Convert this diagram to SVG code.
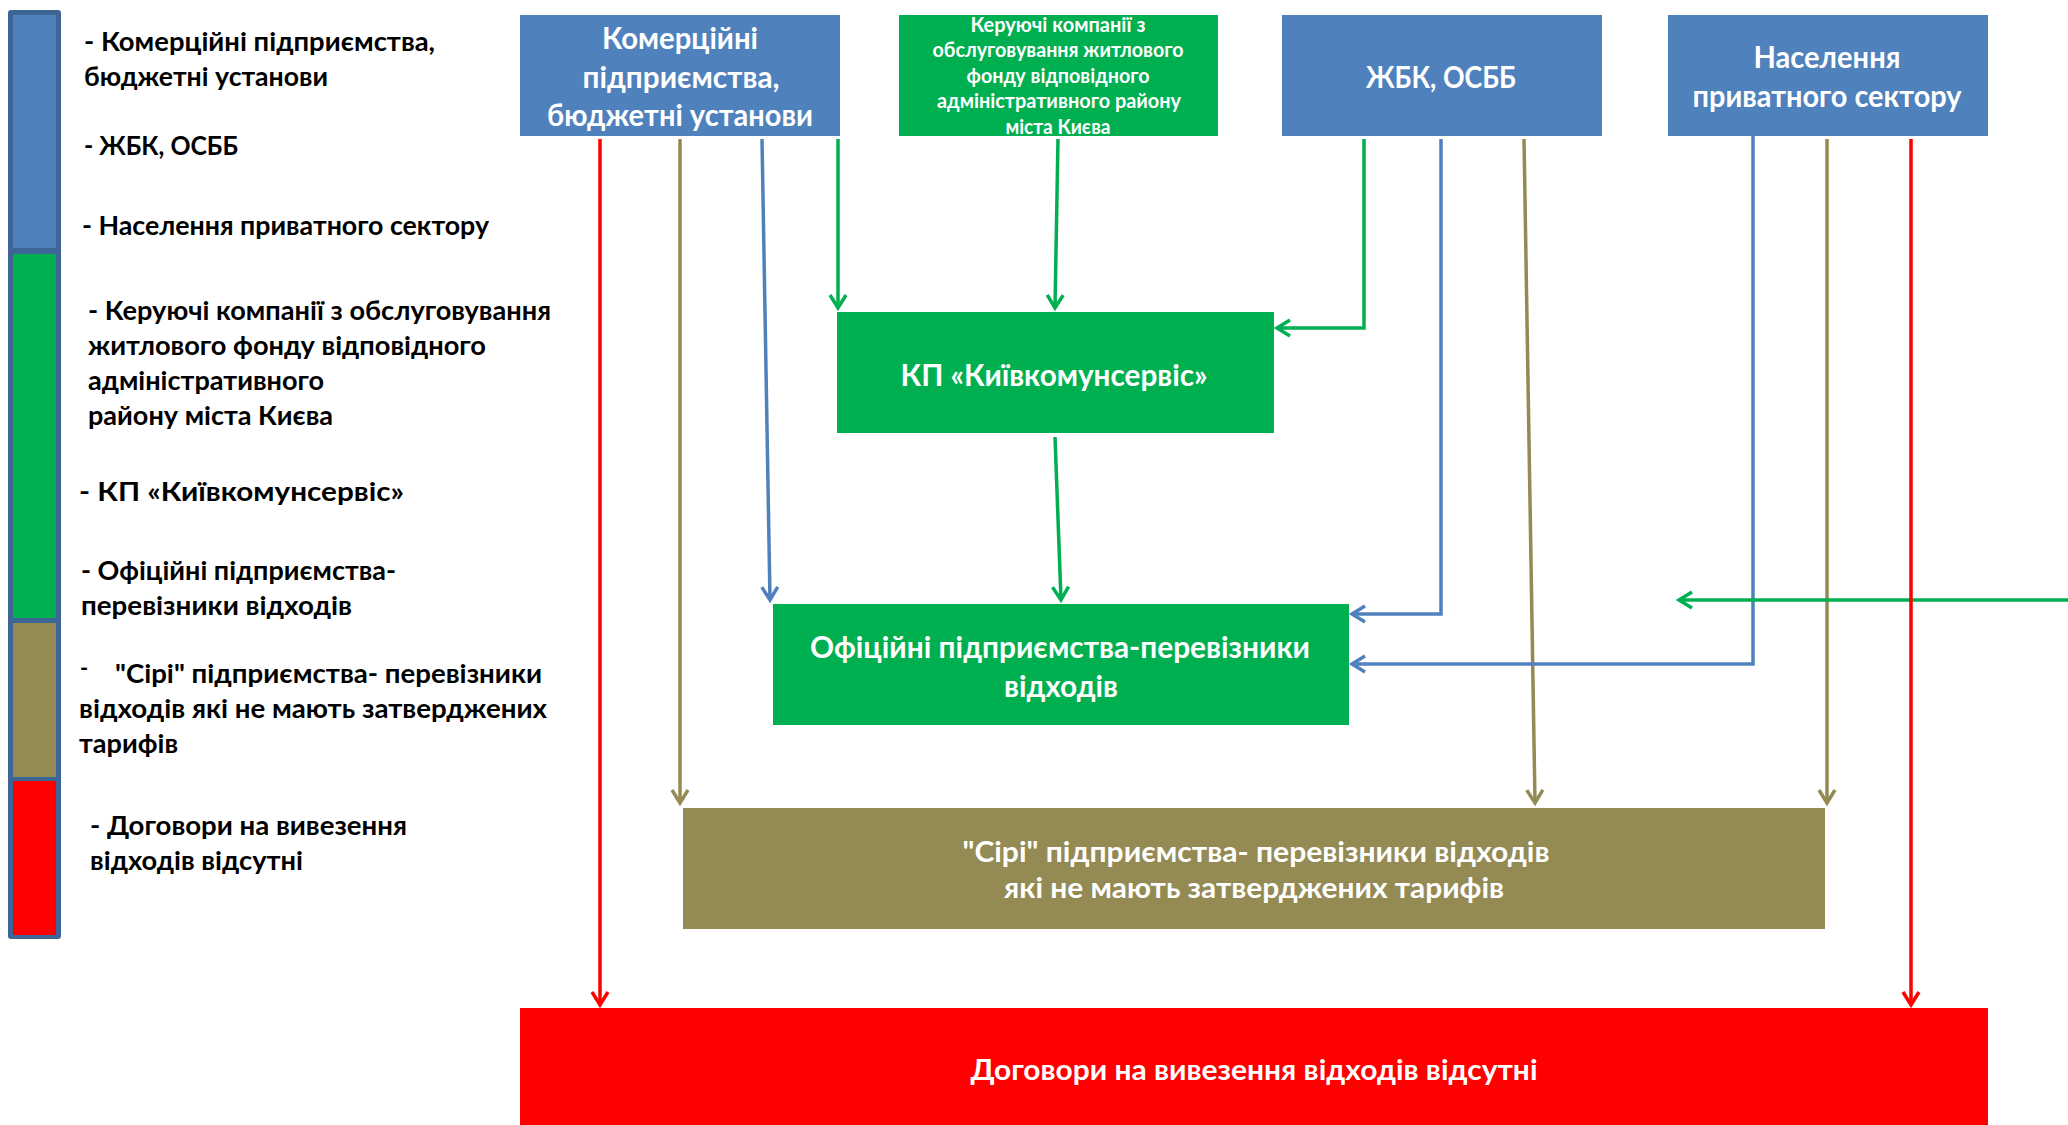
<svg xmlns="http://www.w3.org/2000/svg" width="2068" height="1125" viewBox="0 0 2068 1125">
<style>
text{font-family:Lato,"Noto Sans","DejaVu Sans",sans-serif;font-weight:bold}
.lg{font-size:27px;fill:#000}
.nt{font-size:30px;fill:#fff;text-anchor:middle}
.ns{font-size:20px;fill:#fff;text-anchor:middle}
.bt{font-size:28px;fill:#fff;text-anchor:middle}
.c{fill:none;stroke-width:3.5;stroke-linejoin:miter}
.cg{stroke:#00b050}.cb{stroke:#4f81bd}.co{stroke:#948a54}.cr{stroke:#ff0000}
.blue{fill:#4f81bd}.green{fill:#00b050}.olive{fill:#948a54}.red{fill:#ff0000}
</style>
<defs>
<marker id="mg" markerUnits="userSpaceOnUse" markerWidth="30" markerHeight="30" refX="0" refY="0" orient="auto" overflow="visible"><path d="M-13,-8 L0,0 L-13,8" fill="none" stroke="#00b050" stroke-width="3.5"/></marker>
<marker id="mb" markerUnits="userSpaceOnUse" markerWidth="30" markerHeight="30" refX="0" refY="0" orient="auto" overflow="visible"><path d="M-13,-8 L0,0 L-13,8" fill="none" stroke="#4f81bd" stroke-width="3.5"/></marker>
<marker id="mo" markerUnits="userSpaceOnUse" markerWidth="30" markerHeight="30" refX="0" refY="0" orient="auto" overflow="visible"><path d="M-13,-8 L0,0 L-13,8" fill="none" stroke="#948a54" stroke-width="3.5"/></marker>
<marker id="mr" markerUnits="userSpaceOnUse" markerWidth="30" markerHeight="30" refX="0" refY="0" orient="auto" overflow="visible"><path d="M-13,-8 L0,0 L-13,8" fill="none" stroke="#ff0000" stroke-width="3.5"/></marker>
</defs>
<rect width="2068" height="1125" fill="#fff"/>

<g id="legend">
<rect x="8" y="10" width="53" height="929" rx="3" fill="#3d6596"/>
<rect x="13" y="15" width="43" height="233" fill="#4f81bd"/>
<rect x="13" y="254" width="43" height="364" fill="#00b050"/>
<rect x="13" y="623" width="43" height="154" fill="#948a54"/>
<rect x="13" y="781" width="43" height="154" fill="#ff0000"/>
<text class="lg" x="84" y="51" textLength="351" lengthAdjust="spacingAndGlyphs">- Комерційні підприємства,</text>
<text class="lg" x="84" y="86" textLength="244" lengthAdjust="spacingAndGlyphs">бюджетні установи</text>
<text class="lg" x="84" y="155" textLength="154" lengthAdjust="spacingAndGlyphs">- ЖБК, ОСББ</text>
<text class="lg" x="82" y="235" textLength="407" lengthAdjust="spacingAndGlyphs">- Населення приватного сектору</text>
<text class="lg" x="88" y="320" textLength="463" lengthAdjust="spacingAndGlyphs">- Керуючі компанії з обслуговування</text>
<text class="lg" x="88" y="355" textLength="398" lengthAdjust="spacingAndGlyphs">житлового фонду відповідного</text>
<text class="lg" x="88" y="390" textLength="236" lengthAdjust="spacingAndGlyphs">адміністративного</text>
<text class="lg" x="88" y="425" textLength="245" lengthAdjust="spacingAndGlyphs">району міста Києва</text>
<text class="lg" x="79" y="501" textLength="325" lengthAdjust="spacingAndGlyphs">- КП «Київкомунсервіс»</text>
<text class="lg" x="81" y="580" textLength="315" lengthAdjust="spacingAndGlyphs">- Офіційні підприємства-</text>
<text class="lg" x="81" y="615" textLength="271" lengthAdjust="spacingAndGlyphs">перевізники відходів</text>
<text class="lg" x="80" y="676" style="font-size:22px">-</text>
<text class="lg" x="115" y="683" textLength="427" lengthAdjust="spacingAndGlyphs">"Сірі" підприємства- перевізники</text>
<text class="lg" x="79" y="718" textLength="468" lengthAdjust="spacingAndGlyphs">відходів які не мають затверджених</text>
<text class="lg" x="79" y="753" textLength="99" lengthAdjust="spacingAndGlyphs">тарифів</text>
<text class="lg" x="90" y="835" textLength="317" lengthAdjust="spacingAndGlyphs">- Договори на вивезення</text>
<text class="lg" x="90" y="870" textLength="213" lengthAdjust="spacingAndGlyphs">відходів відсутні</text>
</g>

<g id="n-commercial">
<rect class="blue" x="520" y="15" width="320" height="121"/>
<text class="nt" x="680" y="49" textLength="156" lengthAdjust="spacingAndGlyphs">Комерційні</text>
<text class="nt" x="681" y="88" textLength="197" lengthAdjust="spacingAndGlyphs">підприємства,</text>
<text class="nt" x="680" y="126" textLength="266" lengthAdjust="spacingAndGlyphs">бюджетні установи</text>
</g>

<g id="n-managing">
<rect class="green" x="899" y="15" width="319" height="121"/>
<text class="ns" x="1058" y="32" textLength="175" lengthAdjust="spacingAndGlyphs">Керуючі компанії з</text>
<text class="ns" x="1058" y="57" textLength="251" lengthAdjust="spacingAndGlyphs">обслуговування житлового</text>
<text class="ns" x="1058" y="83" textLength="183" lengthAdjust="spacingAndGlyphs">фонду відповідного</text>
<text class="ns" x="1059" y="108" textLength="244" lengthAdjust="spacingAndGlyphs">адміністративного району</text>
<text class="ns" x="1058" y="134" textLength="105" lengthAdjust="spacingAndGlyphs">міста Києва</text>
</g>

<g id="n-zhbk">
<rect class="blue" x="1282" y="15" width="320" height="121"/>
<text class="nt" x="1441" y="88" textLength="150" lengthAdjust="spacingAndGlyphs">ЖБК, ОСББ</text>
</g>

<g id="n-private">
<rect class="blue" x="1668" y="15" width="320" height="121"/>
<text class="nt" x="1827" y="68" textLength="147" lengthAdjust="spacingAndGlyphs">Населення</text>
<text class="nt" x="1827" y="107" textLength="269" lengthAdjust="spacingAndGlyphs">приватного сектору</text>
</g>

<g id="n-kp">
<rect class="green" x="837" y="312" width="437" height="121"/>
<text class="nt" x="1054" y="386" textLength="307" lengthAdjust="spacingAndGlyphs">КП «Київкомунсервіс»</text>
</g>

<g id="n-official">
<rect class="green" x="773" y="604" width="576" height="121"/>
<text class="nt" x="1060" y="658" textLength="500" lengthAdjust="spacingAndGlyphs">Офіційні підприємства-перевізники</text>
<text class="nt" x="1061" y="697" textLength="114" lengthAdjust="spacingAndGlyphs">відходів</text>
</g>

<g id="n-grey">
<rect class="olive" x="683" y="808" width="1142" height="121"/>
<text class="bt" x="1256" y="862" textLength="587" lengthAdjust="spacingAndGlyphs">"Сірі" підприємства- перевізники відходів</text>
<text class="bt" x="1254" y="898" textLength="500" lengthAdjust="spacingAndGlyphs">які не мають затверджених тарифів</text>
</g>

<g id="n-none">
<rect class="red" x="520" y="1008" width="1468" height="130"/>
<text class="bt" x="1254" y="1080" textLength="567" lengthAdjust="spacingAndGlyphs">Договори на вивезення відходів відсутні</text>
</g>

<g id="connectors">
<path class="c co" d="M680,139 L680,803" marker-end="url(#mo)"/>
<path class="c cb" d="M762,139 L770,600" marker-end="url(#mb)"/>
<path class="c cg" d="M838,139 L838,308" marker-end="url(#mg)"/>
<path class="c cg" d="M1058,139 L1055,308" marker-end="url(#mg)"/>
<path class="c cg" d="M1364,139 L1364,328 L1277,328" marker-end="url(#mg)"/>
<path class="c cb" d="M1441,139 L1441,614 L1352,614" marker-end="url(#mb)"/>
<path class="c co" d="M1524,139 L1535,803" marker-end="url(#mo)"/>
<path class="c cb" d="M1753,136 L1753,664 L1352,664" marker-end="url(#mb)"/>
<path class="c co" d="M1827,139 L1827,803" marker-end="url(#mo)"/>
<path class="c cg" d="M1055,437 L1061,600" marker-end="url(#mg)"/>
<path class="c cg" d="M2070,600 L1679,600" marker-end="url(#mg)"/>
<path class="c cr" d="M600,139 L600,1005" marker-end="url(#mr)"/>
<path class="c cr" d="M1911,139 L1911,1005" marker-end="url(#mr)"/>
</g>
</svg>
